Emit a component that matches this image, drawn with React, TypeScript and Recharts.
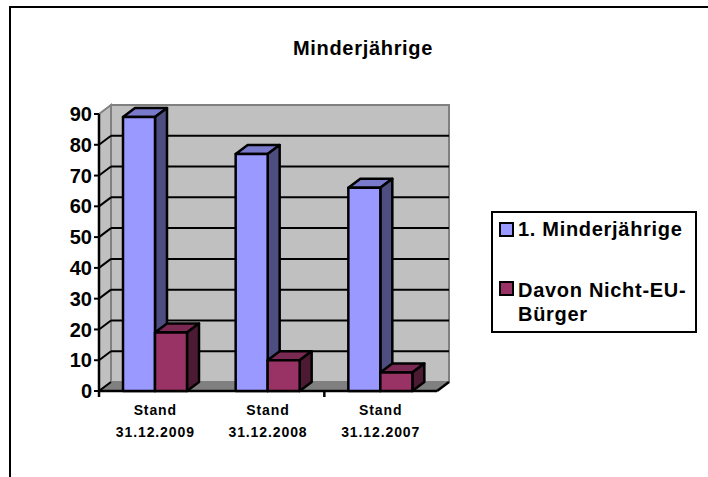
import React from 'react';
import { BarChart, Bar, XAxis, YAxis, CartesianGrid, Legend, usePlotArea } from 'recharts';

const categories = ['Stand 31.12.2009', 'Stand 31.12.2008', 'Stand 31.12.2007'];
const minderjaehrige = [89, 77, 66];
const nichtEu = [19, 10, 6];
const yTicks = [0, 10, 20, 30, 40, 50, 60, 70, 80, 90];

const chartData = categories.map((name, i) => ({
    name,
    minderjaehrige: minderjaehrige[i],
    nichtEu: nichtEu[i],
}));

const FONT = '"Liberation Sans", Arial, sans-serif';
const DX = 12;
const DY = -9;

const Walls = () => {
    const plot = usePlotArea();
    if (!plot) return null;
    const { x, y, width, height } = plot;
    const b = y + height;
    const r = x + width;
    return (
        <g>
            <polygon points={`${x + DX},${y + DY} ${r + DX},${y + DY} ${r + DX},${b + DY} ${x + DX},${b + DY}`} fill="#c0c0c0" stroke="#808080" strokeWidth={2} />
            <polygon points={`${x},${y} ${x + DX},${y + DY} ${x + DX},${b + DY} ${x},${b}`} fill="#c0c0c0" stroke="#808080" strokeWidth={2} />
            <polygon points={`${x},${b} ${x + DX},${b + DY} ${r + DX},${b + DY} ${r},${b}`} fill="#808080" stroke="#808080" strokeWidth={1} />
        </g>
    );
};

const AxisFront = () => {
    const plot = usePlotArea();
    if (!plot) return null;
    const { x, y, width, height } = plot;
    const b = y + height;
    return (
        <g stroke="#000" strokeWidth={2.5}>
            <line x1={x} y1={y} x2={x} y2={b + 1} />
            <line x1={x} y1={b} x2={x + width} y2={b} />
            <line x1={x + width} y1={b} x2={x + width + DX} y2={b + DY} />
            <line x1={x} y1={b} x2={x} y2={b + 6} />
            <line x1={x + (width * 2) / 3} y1={b} x2={x + (width * 2) / 3} y2={b + 6} />
        </g>
    );
};

// the walls go in the first grid item so the lines end up on top of them
const GridLine = (props: any) => {
    const { x1, x2, y1, y2, index } = props;
    return (
        <g key={index}>
            {index === 0 && <Walls />}
            <g stroke="#000" strokeWidth={2}>
                {y1 > 120 && <line x1={x1} y1={y1} x2={x1 + DX} y2={y1 + DY} />}
                {y1 < 385 && y1 > 120 && <line x1={x1 + DX} y1={y1 + DY} x2={x2 + DX} y2={y2 + DY} />}
            </g>
        </g>
    );
};

const Bar3D = (props: any) => {
    const { x, y, width, height, fill, topFill, sideFill } = props;
    const r = x + width;
    const b = y + height;
    return (
        <g stroke="#000" strokeWidth={2.5} strokeLinejoin="round">
            <polygon points={`${x},${y} ${x + DX},${y + DY} ${r + DX},${y + DY} ${r},${y}`} fill={topFill} />
            <polygon points={`${r},${y} ${r + DX},${y + DY} ${r + DX},${b + DY} ${r},${b}`} fill={sideFill} />
            <rect x={x} y={y} width={width} height={height} fill={fill} />
        </g>
    );
};

const CategoryTick = (props: any) => {
    const { x, payload } = props;
    const [first, second] = String(payload.value).split(' ');
    return (
        <text x={x} textAnchor="middle" fontFamily={FONT} fontSize={14} fontWeight="bold" letterSpacing={0.9} fill="#000">
            <tspan x={x} y={415}>{first}</tspan>
            <tspan x={x} y={437}>{second}</tspan>
        </text>
    );
};

const LegendBox = (props: any) => {
    const { payload } = props;
    return (
        <div style={{ width: 202, height: 118, border: '2px solid #000', boxSizing: 'content-box', fontFamily: FONT, fontWeight: 'bold', fontSize: 20, letterSpacing: 0.7, lineHeight: '24px', color: '#000', position: 'relative', background: '#fff' }}>
            {(payload || []).map((p: any, i: number) => (
                <div key={p.value} style={{ position: 'absolute', left: 6, top: i === 0 ? 4 : 65, display: 'flex', alignItems: 'flex-start' }}>
                    <span style={{ width: 11, height: 11, marginTop: i === 0 ? 5 : 3, marginRight: 4, border: '2px solid #000', background: p.color, flex: 'none' }} />
                    <span style={{ width: 178 }}>{p.value}</span>
                </div>
            ))}
        </div>
    );
};

export default function App() {
    return (
        <div style={{ position: 'absolute', left: 0, top: 0, width: 708, height: 477, background: '#fff' }}>
            <div style={{ position: 'absolute', left: 9, top: 6, width: 699, height: 471, borderTop: '2px solid #000', borderLeft: '2px solid #000', boxSizing: 'border-box' }} />
            <div style={{ position: 'absolute', left: 263, top: 37, width: 200, textAlign: 'center', fontFamily: FONT, fontWeight: 'bold', fontSize: 20, letterSpacing: 0.7, color: '#000' }}>Minderjährige</div>
            <div style={{ position: 'absolute', left: 0, top: 0 }}>
                <BarChart
                    width={708}
                    height={477}
                    data={chartData}
                    margin={{ top: 114, right: 64, bottom: 0, left: 64 }}
                    barCategoryGap={24}
                    barGap={0}
                >
                    <CartesianGrid vertical={false} horizontal={(p: any) => <GridLine {...p} />} />
                    <XAxis dataKey="name" axisLine={false} tickLine={false} interval={0} height={86} tick={<CategoryTick />} />
                    <YAxis
                        width={35}
                        domain={[0, 90]}
                        ticks={yTicks}
                        interval={0}
                        axisLine={false}
                        tickLine={{ stroke: '#000', strokeWidth: 2 }}
                        tickSize={5}
                        tick={{ fontFamily: FONT, fontWeight: 'bold', fontSize: 20, fill: '#000' }}
                    />
                    <Bar dataKey="minderjaehrige" name="1. Minderjährige" fill="#9999ff" isAnimationActive={false} shape={<Bar3D topFill="#7a7acc" sideFill="#4d4d80" />} />
                    <Bar dataKey="nichtEu" name="Davon Nicht-EU-Bürger" fill="#993366" isAnimationActive={false} shape={<Bar3D topFill="#7a2952" sideFill="#4d1a33" />} />
                    <AxisFront />
                    <Legend content={<LegendBox />} layout="vertical" verticalAlign="top" align="right" width={207} wrapperStyle={{ left: 491, top: 211, width: 207 }} />
                </BarChart>
            </div>
        </div>
    );
}
